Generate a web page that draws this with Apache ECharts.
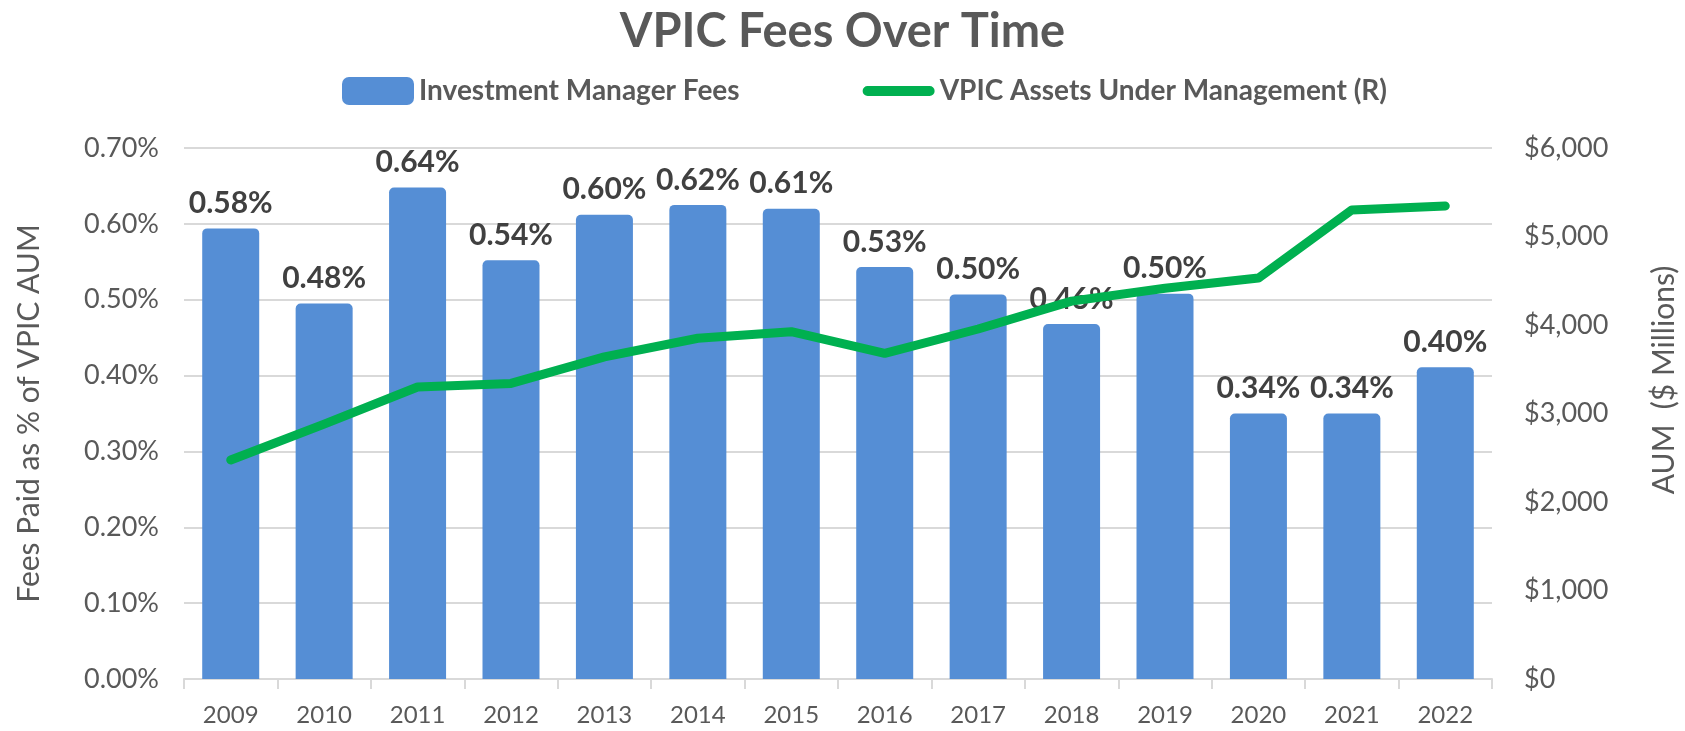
<!DOCTYPE html>
<html><head><meta charset="utf-8">
<script src="https://cdn.jsdelivr.net/npm/echarts@6/dist/echarts.min.js"></script>
<style>html,body{margin:0;padding:0;background:#fff}#c{width:1685px;height:731px}</style>
</head><body><div id="c"></div>
<script>
const years = ['2009','2010','2011','2012','2013','2014','2015','2016','2017','2018','2019','2020','2021','2022'];
// bar heights (% of AUM)
const feePct = [0.594,0.495,0.648,0.552,0.612,0.625,0.620,0.543,0.507,0.468,0.508,0.350,0.350,0.411];
// data labels as printed on the chart
const feeLabels = ['0.58%','0.48%','0.64%','0.54%','0.60%','0.62%','0.61%','0.53%','0.50%','0.46%','0.50%','0.34%','0.34%','0.40%'];
const aumMillions = [2475,2880,3300,3340,3640,3850,3925,3680,3955,4270,4415,4530,5300,5345];
const titleText = 'VPIC Fees Over Time';
const feeName = 'Investment Manager Fees';
const aumName = 'VPIC Assets Under Management (R)';
const leftAxisName = 'Fees Paid as % of VPIC AUM';
const rightAxisName = 'AUM  ($ Millions)';

const FONT = 'Lato, "Open Sans", sans-serif';
const chart = echarts.init(document.getElementById('c'), null, {renderer:'canvas'});
chart.setOption({
  backgroundColor:'#fff',
  animation:false,
  textStyle:{fontFamily:FONT},
  title:{text:titleText,left:'center',top:3,textStyle:{fontFamily:FONT,fontSize:47,fontWeight:'bold',color:'#595959'}},
  legend:{
    left:342, top:77, itemWidth:72, itemHeight:28, itemGap:123, padding:0,
    textStyle:{fontFamily:FONT,fontSize:28,fontWeight:'bold',color:'#595959'},
    data:[
      {name:feeName,icon:'roundRect'},
      {name:aumName,icon:'path://M36,0 L36,0 Z M5,9 L67,9 A5,5 0 0 1 67,19 L5,19 A5,5 0 0 1 5,9 Z M36,28 L36,28 Z',
        itemStyle:{color:'#00B050'}}
    ]
  },
  grid:{left:184,right:193,top:148,bottom:52,containLabel:false},
  xAxis:{type:'category',data:years,boundaryGap:true,
    axisLine:{lineStyle:{color:'#D9D9D9',width:2}},
    axisTick:{show:true,length:10,lineStyle:{color:'#D9D9D9',width:2}},
    axisLabel:{fontFamily:FONT,fontSize:24,color:'#595959',margin:24}
  },
  yAxis:[
    {type:'value',min:0,max:0.7,interval:0.1,
      name:leftAxisName,nameLocation:'middle',nameGap:140,
      nameTextStyle:{fontFamily:FONT,fontSize:30,color:'#595959'},
      axisLine:{show:false},axisTick:{show:false},
      splitLine:{lineStyle:{color:'#D9D9D9',width:2}},
      axisLabel:{fontFamily:FONT,fontSize:27,color:'#595959',margin:25,formatter:v=>v.toFixed(2)+'%'}
    },
    {type:'value',min:0,max:6000,interval:1000,position:'right',
      axisLine:{show:false},axisTick:{show:false},splitLine:{show:false},
      axisLabel:{fontFamily:FONT,fontSize:27,color:'#595959',margin:32,
        formatter:v=>'$'+v.toLocaleString('en-US')}
    }
  ],
  graphic:[{type:'text',x:1664,y:380,rotation:Math.PI/2,
    style:{text:rightAxisName,fontFamily:FONT,fontSize:30,fill:'#595959',textAlign:'center',textVerticalAlign:'middle'}}],
  series:[
    {name:feeName,type:'bar',data:feePct,yAxisIndex:0,barWidth:57,z:2,
      itemStyle:{color:'#558ED5',borderRadius:[5,5,0,0]},
      label:{show:true,position:'top',distance:10,fontFamily:FONT,fontSize:30,fontWeight:'bold',color:'#404040',
        formatter:p=>feeLabels[p.dataIndex]}
    },
    {name:aumName,type:'line',data:aumMillions,yAxisIndex:1,z:5,symbol:'none',
      lineStyle:{color:'#00B050',width:9,cap:'round',join:'round'},itemStyle:{color:'#00B050'}}
  ]
});
</script></body></html>
